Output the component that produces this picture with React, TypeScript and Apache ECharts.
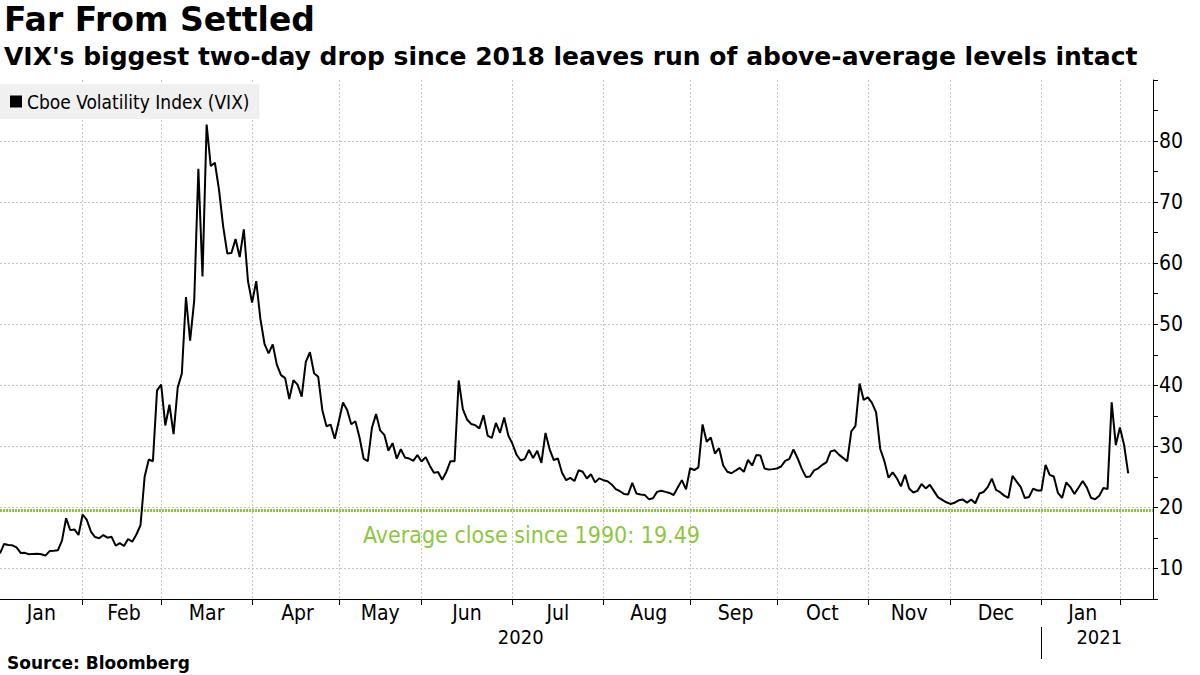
import React, { useEffect, useRef } from "react";
import * as echarts from "echarts";

// Months covered by the category axis (trading days only)
const months = [
  "2020-01", "2020-02", "2020-03", "2020-04", "2020-05", "2020-06", "2020-07",
  "2020-08", "2020-09", "2020-10", "2020-11", "2020-12", "2021-01", "2021-02",
];

// Trading days of each month
const tradingDays: number[][] = [
  [2, 3, 6, 7, 8, 9, 10, 13, 14, 15, 16, 17, 21, 22, 23, 24, 27, 28, 29, 30, 31],
  [3, 4, 5, 6, 7, 10, 11, 12, 13, 14, 18, 19, 20, 21, 24, 25, 26, 27, 28],
  [2, 3, 4, 5, 6, 9, 10, 11, 12, 13, 16, 17, 18, 19, 20, 23, 24, 25, 26, 27, 30, 31],
  [1, 2, 3, 6, 7, 8, 9, 13, 14, 15, 16, 17, 20, 21, 22, 23, 24, 27, 28, 29, 30],
  [1, 4, 5, 6, 7, 8, 11, 12, 13, 14, 15, 18, 19, 20, 21, 22, 26, 27, 28, 29],
  [1, 2, 3, 4, 5, 8, 9, 10, 11, 12, 15, 16, 17, 18, 19, 22, 23, 24, 25, 26, 29, 30],
  [1, 2, 6, 7, 8, 9, 10, 13, 14, 15, 16, 17, 20, 21, 22, 23, 24, 27, 28, 29, 30, 31],
  [3, 4, 5, 6, 7, 10, 11, 12, 13, 14, 17, 18, 19, 20, 21, 24, 25, 26, 27, 28, 31],
  [1, 2, 3, 4, 8, 9, 10, 11, 14, 15, 16, 17, 18, 21, 22, 23, 24, 25, 28, 29, 30],
  [1, 2, 5, 6, 7, 8, 9, 12, 13, 14, 15, 16, 19, 20, 21, 22, 23, 26, 27, 28, 29, 30],
  [2, 3, 4, 5, 6, 9, 10, 11, 12, 13, 16, 17, 18, 19, 20, 23, 24, 25, 27, 30],
  [1, 2, 3, 4, 7, 8, 9, 10, 11, 14, 15, 16, 17, 18, 21, 22, 23, 24, 28, 29, 30, 31],
  [4, 5, 6, 7, 8, 11, 12, 13, 14, 15, 19, 20, 21, 22, 25, 26, 27, 28, 29],
  [1, 2, 3, 4, 5, 8, 9, 10],
];

// VIX closes per month (same order as tradingDays)
const vixJan20 = [12.47, 14.02, 13.85, 13.79, 13.45, 12.54, 12.56, 12.32, 12.39, 12.42, 12.32, 12.1, 12.85, 12.91, 12.98, 14.56, 18.23, 16.28, 16.39, 15.49, 18.84];
const vixFeb20 = [17.97, 16.05, 15.15, 14.96, 15.47, 15.04, 15.18, 13.74, 14.15, 13.68, 14.83, 14.38, 15.56, 17.08, 25.03, 27.85, 27.56, 39.16, 40.11];
const vixMar20 = [33.42, 36.82, 31.99, 39.62, 41.94, 54.46, 47.3, 53.9, 75.47, 57.83, 82.69, 75.91, 76.45, 72.0, 66.04, 61.59, 61.67, 63.95, 61.0, 65.54, 57.08, 53.54];
const vixApr20 = [57.06, 50.91, 46.8, 45.24, 46.7, 43.35, 41.67, 41.17, 37.76, 40.84, 40.11, 38.15, 43.83, 45.41, 41.98, 41.38, 35.93, 33.29, 33.57, 31.23, 34.15];
const vixMay20 = [37.19, 35.97, 33.61, 34.12, 31.44, 27.98, 27.57, 33.04, 35.28, 32.61, 31.89, 29.3, 30.53, 27.99, 29.53, 28.16, 28.01, 27.62, 28.59, 27.51];
const vixJun20 = [28.23, 26.84, 25.66, 25.81, 24.52, 25.81, 27.57, 27.57, 40.79, 36.09, 34.4, 33.67, 33.47, 32.94, 35.12, 31.77, 31.37, 33.84, 32.22, 34.73, 31.78, 30.43];
const vixJul20 = [28.62, 27.68, 27.94, 29.43, 28.08, 29.26, 27.29, 32.19, 29.52, 27.76, 28.0, 25.68, 24.46, 24.84, 24.32, 26.08, 25.84, 24.74, 25.44, 24.1, 24.76, 24.46];
const vixAug20 = [24.28, 23.76, 23.0, 22.65, 22.21, 22.13, 24.03, 22.28, 22.13, 22.05, 21.35, 21.51, 22.54, 22.72, 22.54, 22.37, 22.03, 23.27, 24.47, 22.96, 26.41];
const vixSep20 = [26.12, 26.57, 33.6, 30.75, 31.46, 28.81, 29.71, 26.87, 25.85, 25.59, 26.04, 26.46, 25.83, 27.78, 26.86, 28.58, 28.51, 26.38, 26.19, 26.27, 26.37];
const vixOct20 = [26.7, 27.63, 27.96, 29.48, 28.06, 26.36, 25.0, 25.07, 26.07, 26.4, 26.97, 27.41, 29.18, 29.35, 28.65, 28.11, 27.55, 32.46, 33.35, 40.28, 37.59, 38.02];
const vixNov20 = [37.13, 35.55, 29.57, 27.58, 24.86, 25.75, 24.8, 23.45, 25.35, 23.1, 22.45, 22.71, 23.84, 23.11, 23.7, 22.66, 21.64, 21.25, 20.84, 20.57];
const vixDec20 = [20.77, 21.17, 21.28, 20.79, 21.3, 20.68, 22.27, 22.52, 23.31, 24.72, 22.89, 22.5, 21.93, 21.57, 25.16, 24.23, 23.31, 21.53, 21.7, 23.08, 22.77, 22.75];
const vixJan21 = [26.97, 25.34, 25.07, 22.37, 21.56, 24.08, 23.33, 22.21, 23.25, 24.34, 23.24, 21.58, 21.32, 21.91, 23.19, 23.02, 37.21, 30.21, 33.09];
const vixFeb21 = [30.24, 25.56];

const vixByMonth = [vixJan20, vixFeb20, vixMar20, vixApr20, vixMay20, vixJun20, vixJul20, vixAug20, vixSep20, vixOct20, vixNov20, vixDec20, vixJan21, vixFeb21];

const monthNames = ["Jan", "Feb", "Mar", "Apr", "May", "Jun", "Jul", "Aug", "Sep", "Oct", "Nov", "Dec"];
const yLabelValues = [10, 20, 30, 40, 50, 60, 70, 80];

const seriesName = "Cboe Volatility Index (VIX)";
const AVERAGE = 19.49;
const averageLabel = "Average close since 1990: 19.49";
const titleText = "Far From Settled";
const subtitleText = "VIX's biggest two-day drop since 2018 leaves run of above-average levels intact";
const sourceText = "Source: Bloomberg";

const FONT = "'DejaVu Sans Condensed', 'Liberation Sans Narrow', 'DejaVu Sans', sans-serif";
const BOLD_FONT = "'DejaVu Sans', sans-serif";

export default function App() {
  const ref = useRef<HTMLDivElement>(null);

  useEffect(() => {
    if (!ref.current) return;
    const chart = echarts.init(ref.current, null, { renderer: "svg" });

    const dates: string[] = [];
    const values: (number | null)[] = [];
    const monthRanges: { month: string; s: number; e: number }[] = [];
    months.forEach((m, mi) => {
      const s = dates.length;
      tradingDays[mi].forEach((d, di) => {
        dates.push(`${m}-${String(d).padStart(2, "0")}`);
        const v = vixByMonth[mi][di];
        values.push(v === undefined ? null : v);
      });
      monthRanges.push({ month: m, s, e: dates.length - 1 });
    });

    const monthEnd = new Set<number>();
    for (let i = 0; i < dates.length - 1; i++) {
      if (dates[i].slice(0, 7) !== dates[i + 1].slice(0, 7)) monthEnd.add(i);
    }

    const monthLabel = new Map<number, string>();
    monthRanges.forEach((r, mi) => {
      if (mi === monthRanges.length - 1) return;
      const left = mi === 0 ? 0 : r.s - 1;
      const c = Math.round((left + r.e) / 2);
      monthLabel.set(c, monthNames[parseInt(r.month.slice(5), 10) - 1]);
    });

    const yearLabel = new Map<number, string>();
    const yearEnd = new Set<number>();
    const years = Array.from(new Set(dates.map((d) => d.slice(0, 4))));
    let leftB = 0;
    years.forEach((y) => {
      let last = -1;
      dates.forEach((d, i) => {
        if (d.slice(0, 4) === y) last = i;
      });
      yearLabel.set(Math.round((leftB + last) / 2), y);
      if (last < dates.length - 1) yearEnd.add(last);
      leftB = last;
    });

    chart.setOption({
      animation: false,
      backgroundColor: "#ffffff",
      title: [
        {
          text: titleText,
          left: 4,
          top: 3,
          padding: 0,
          textStyle: { fontFamily: BOLD_FONT, fontWeight: "bold", fontSize: 33, color: "#000" },
        },
        {
          text: subtitleText,
          left: 4,
          top: 44,
          padding: 0,
          textStyle: { fontFamily: BOLD_FONT, fontWeight: "bold", fontSize: 25, color: "#000" },
        },
        {
          text: sourceText,
          left: 7,
          top: 654,
          padding: 0,
          textStyle: { fontFamily: BOLD_FONT, fontWeight: "bold", fontSize: 17, color: "#000" },
        },
      ],
      legend: {
        data: [{ name: seriesName, icon: "rect" }],
        left: 0,
        top: 84,
        backgroundColor: "#f0f0f0",
        padding: [8, 10, 8, 10],
        itemWidth: 12,
        itemHeight: 12,
        itemGap: 0,
        selectedMode: false,
        textStyle: { fontFamily: FONT, fontSize: 19, color: "#000", padding: [0, 0, 0, 0] },
      },
      grid: { left: 0, right: 47, top: 80, bottom: 76, containLabel: false },
      xAxis: [
        {
          type: "category",
          data: dates,
          boundaryGap: false,
          axisLine: { show: true, lineStyle: { color: "#000", width: 1 } },
          axisTick: {
            show: true,
            interval: (i: number) => monthEnd.has(i),
            length: 6,
            lineStyle: { color: "#000" },
          },
          axisLabel: {
            interval: (i: number) => monthLabel.has(i),
            formatter: (_v: string, i: number) => monthLabel.get(i) ?? "",
            fontFamily: FONT,
            fontSize: 21,
            color: "#000",
            margin: 3,
          },
          splitLine: {
            show: true,
            interval: (i: number) => monthEnd.has(i),
            lineStyle: { color: "#c4c4c4", type: [2, 2], width: 1 },
          },
        },
        {
          type: "category",
          data: dates,
          boundaryGap: false,
          position: "bottom",
          offset: 28,
          axisLine: { show: false },
          axisTick: {
            show: true,
            interval: (i: number) => yearEnd.has(i),
            length: 32,
            lineStyle: { color: "#000" },
          },
          axisLabel: {
            interval: (i: number) => yearLabel.has(i),
            formatter: (_v: string, i: number) => yearLabel.get(i) ?? "",
            fontFamily: FONT,
            fontSize: 20,
            color: "#000",
            margin: 0,
          },
          splitLine: { show: false },
        },
      ],
      yAxis: {
        type: "value",
        position: "right",
        min: 5,
        max: 90,
        interval: 5,
        axisLine: { show: true, lineStyle: { color: "#000", width: 1 } },
        axisTick: { show: true, length: 5, lineStyle: { color: "#000" } },
        axisLabel: {
          formatter: (v: number) => (yLabelValues.includes(v) ? String(v) : ""),
          fontFamily: FONT,
          fontSize: 21,
          color: "#000",
          margin: 6,
        },
        splitLine: {
          show: true,
          showMaxLine: false,
          lineStyle: { color: ["rgba(0,0,0,0)", "#c4c4c4"], type: [2, 2], width: 1 },
        },
      },
      series: [
        {
          name: seriesName,
          type: "line",
          data: values,
          symbol: "none",
          showSymbol: false,
          connectNulls: false,
          itemStyle: { color: "#000" },
          lineStyle: { color: "#000", width: 2 },
          z: 3,
          markLine: {
            silent: true,
            symbol: "none",
            label: { show: false },
            lineStyle: { color: "#8dc63f", width: 3, type: [2, 1] },
            data: [{ yAxis: AVERAGE }],
            z: 2,
          },
        },
      ],
    });

    const yPix = chart.convertToPixel({ yAxisIndex: 0 }, AVERAGE) as number;
    chart.setOption({
      graphic: [
        {
          type: "text",
          left: 363,
          top: yPix + 13,
          style: { text: averageLabel, fill: "#8dc63f", font: `23px ${FONT}` },
        },
      ],
    });

    return () => chart.dispose();
  }, []);

  return (
    <div
      ref={ref}
      style={{ position: "absolute", left: 0, top: 0, width: 1200, height: 675 }}
    />
  );
}
